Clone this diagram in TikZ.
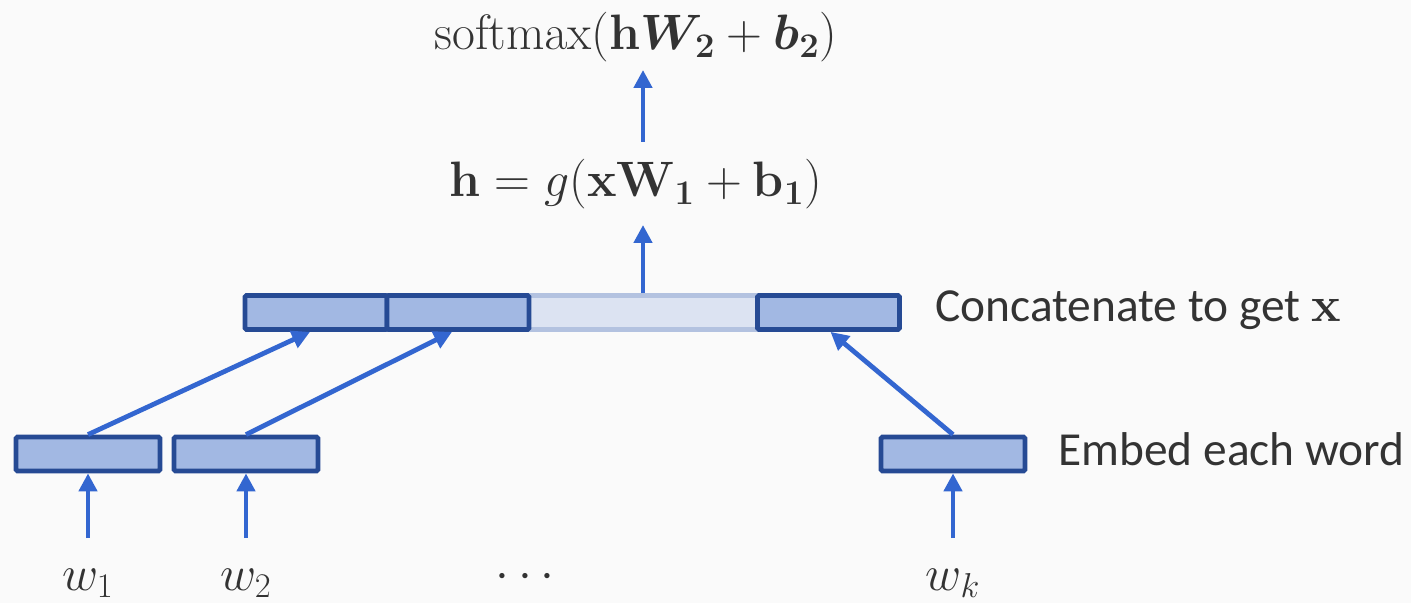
\documentclass[tikz,border=0pt]{standalone}
\usepackage[no-math]{fontspec}
\usepackage{bm}
\setmainfont{Carlito}
\usetikzlibrary{arrows.meta}
\definecolor{bg}{HTML}{FAFAFA}
\definecolor{boxfill}{HTML}{A2B8E3}
\definecolor{boxline}{HTML}{264A94}
\definecolor{lightfill}{HTML}{DCE3F2}
\definecolor{lightline}{HTML}{B3C2E0}
\definecolor{arrowc}{HTML}{3366D0}
\definecolor{txt}{HTML}{333333}
\tikzset{
  vec/.style={draw=boxline, fill=boxfill, line width=2.4pt, minimum height=17pt, inner sep=0pt, rounded corners=0.8pt},
  lightvec/.style={draw=lightline, fill=lightfill, line width=2.4pt, minimum height=17pt, inner sep=0pt},
  conn/.style={draw=arrowc, line width=2.4pt, -{Triangle[length=9pt,width=9pt]}},
  lab/.style={text=txt, font=\fontsize{23.7}{28}\selectfont, inner sep=0pt},
}
\begin{document}
\begin{tikzpicture}[x=0.5pt,y=-0.5pt]
\useasboundingbox[fill=bg] (0,0) rectangle (1411,603);
% concatenated vector
\node[lightvec, minimum width=114pt] (c3) at (643,312.5) {};
\node[vec, minimum width=71pt] (c1) at (316,312.5) {};
\node[vec, minimum width=71pt] (c2) at (458,312.5) {};
\node[vec, minimum width=71pt] (c4) at (828.5,312.5) {};
% embeddings
\node[vec, minimum width=72pt] (e1) at (88,454) {};
\node[vec, minimum width=72pt] (e2) at (246,454) {};
\node[vec, minimum width=72pt] (ek) at (953,454) {};
% words
\node[lab, anchor=base] (w1) at (88,590) {$w_1$};
\node[lab, anchor=base] (w2) at (246,590) {$w_2$};
\node[lab, anchor=base] (dots) at (525,588) {$\cdots$};
\node[lab, anchor=base] (wk) at (953,590) {$w_k$};
\coordinate (a1) at (88,538);
\coordinate (a2) at (246,538);
\coordinate (ak) at (953,538);
% labels
\node[lab, anchor=base west] (concat) at (935,322) {Concatenate to get $\mathbf{x}$};
\node[lab, anchor=base west] (embed) at (1058,466) {Embed each word};
\node[lab, anchor=base] (hid) at (636,197) {$\mathbf{h}=g(\mathbf{x}\mathbf{W}_{\mathbf{1}}+\mathbf{b}_{\mathbf{1}})$};
\node[lab, anchor=base] (out) at (636,50) {$\mathrm{softmax}(\mathbf{h}\bm{W}_{\mathbf{2}}+\bm{b}_{\mathbf{2}})$};
\coordinate (hb) at (643,225);
\coordinate (ht) at (643,142);
\coordinate (ob) at (643,70);
% connectors
\draw[conn] (a1) -- (e1.south);
\draw[conn] (a2) -- (e2.south);
\draw[conn] (ak) -- (ek.south);
\draw[conn] (e1.north) -- ([xshift=-3pt]c1.south);
\draw[conn] (e2.north) -- ([xshift=-3pt]c2.south);
\draw[conn] (ek.north) -- ([xshift=1pt]c4.south);
\draw[conn] (c3.north) -- (hb);
\draw[conn] (ht) -- (ob);
\end{tikzpicture}
\end{document}
